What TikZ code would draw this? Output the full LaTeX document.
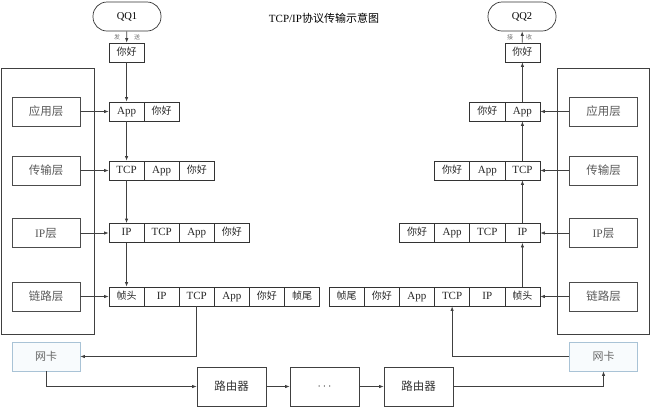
\documentclass[tikz,border=0pt]{standalone}
\usepackage{fontspec}
\setmainfont{Liberation Serif}
\newfontfamily\cjk{Noto Sans CJK SC}
\usetikzlibrary{arrows.meta}
\definecolor{nicdraw}{HTML}{A9C3D6}
\definecolor{nicfill}{HTML}{F8FBFD}
\newcommand\zhs[1]{{\cjk\fontsize{10}{11}\selectfont #1}}
\begin{document}
\begin{tikzpicture}[x=1pt,y=-1pt,
  line/.style={draw=black!75, line width=0.7pt},
  arr/.style={line, -{Latex[length=4.5pt,width=3.4pt]}},
  cell/.style={draw=black!80, line width=0.7pt, minimum width=35.1pt, minimum height=19pt, inner sep=0pt, text height=7.5pt, text depth=2pt, font=\fontsize{11}{12}\selectfont, text=black!85},
  layer/.style={draw=black!70, line width=0.7pt, minimum width=68pt, minimum height=29pt, inner sep=0pt, font=\cjk\fontsize{11.5}{12}\selectfont, text=black!65},
  nic/.style={draw=nicdraw, fill=nicfill, line width=0.7pt, minimum width=68pt, minimum height=29pt, inner sep=0pt, font=\cjk\fontsize{11}{12}\selectfont, text=black!60},
  router/.style={draw=black!75, line width=0.7pt, minimum width=69pt, minimum height=39pt, inner sep=0pt, font=\cjk\fontsize{11.5}{12}\selectfont, text=black!80},
  qq/.style={draw=black!80, line width=0.7pt, rounded corners=14pt, minimum width=68pt, minimum height=29pt, inner sep=0pt, font=\fontsize{10.5}{11}\selectfont},
  tiny/.style={inner sep=0pt, font=\cjk\fontsize{6}{7}\selectfont, text=black!55},
  frame/.style={draw=black!75, line width=0.7pt}
]
\useasboundingbox (0,0) rectangle (650,408);

% title
\node[font=\fontsize{11}{12}\selectfont] (title) at (324,18) {TCP/IP{\cjk\fontsize{11}{12}\selectfont 协议传输示意图}};

% frames
\draw[frame] (1,68) rectangle (94,334);
\draw[frame] (557,68) rectangle (649,334);

% left side
\node[qq] (qq1) at (127,16.5) {QQ1};
\node[cell] (ltop) at (126.55,52.5) {\zhs{你好}};
\node[tiny] (send1) at (117,37) {发};
\node[tiny] (send2) at (137,37) {送};

\node[layer] (lapp) at (46,111.5) {应用层};
\node[layer] (ltra) at (46,170.5) {传输层};
\node[layer] (lip)  at (46,233) {{\rmfamily\fontsize{11.5}{12}\selectfont IP}层};
\node[layer] (llnk) at (46,296.5) {链路层};

\node[cell] (la0) at (126.55,111.5) {App};
\node[cell] (la1) at (161.65,111.5) {\zhs{你好}};

\node[cell] (lt0) at (126.55,170.5) {TCP};
\node[cell] (lt1) at (161.65,170.5) {App};
\node[cell] (lt2) at (196.75,170.5) {\zhs{你好}};

\node[cell] (li0) at (126.55,233) {IP};
\node[cell] (li1) at (161.65,233) {TCP};
\node[cell] (li2) at (196.75,233) {App};
\node[cell] (li3) at (231.85,233) {\zhs{你好}};

\node[cell] (ll0) at (126.55,296.5) {\zhs{帧头}};
\node[cell] (ll1) at (161.65,296.5) {IP};
\node[cell] (ll2) at (196.75,296.5) {TCP};
\node[cell] (ll3) at (231.85,296.5) {App};
\node[cell] (ll4) at (266.95,296.5) {\zhs{你好}};
\node[cell] (ll5) at (302.05,296.5) {\zhs{帧尾}};

\node[nic] (nic1) at (46,356.5) {网卡};

% bottom
\node[router] (r1) at (231.5,386.5) {路由器};
\node[router] (dots) at (324.5,386.5) {$\cdots$};
\node[router] (r2) at (418.5,386.5) {路由器};

% right side
\node[qq] (qq2) at (522,16.5) {QQ2};
\node[cell] (rtop) at (522.4,52.5) {\zhs{你好}};
\node[tiny] (recv1) at (510,37) {接};
\node[tiny] (recv2) at (529,37) {收};

\node[layer] (rapp) at (603.5,111.5) {应用层};
\node[layer] (rtra) at (603.5,170.5) {传输层};
\node[layer] (rip)  at (603.5,233) {{\rmfamily\fontsize{11.5}{12}\selectfont IP}层};
\node[layer] (rlnk) at (603.5,296.5) {链路层};

\node[cell] (ra4) at (487.3,111.5) {\zhs{你好}};
\node[cell] (ra5) at (522.4,111.5) {App};

\node[cell] (rt3) at (452.2,170.5) {\zhs{你好}};
\node[cell] (rt4) at (487.3,170.5) {App};
\node[cell] (rt5) at (522.4,170.5) {TCP};

\node[cell] (ri2) at (417.1,233) {\zhs{你好}};
\node[cell] (ri3) at (452.2,233) {App};
\node[cell] (ri4) at (487.3,233) {TCP};
\node[cell] (ri5) at (522.4,233) {IP};

\node[cell] (rl0) at (346.6,296.5) {\zhs{帧尾}};
\node[cell] (rl1) at (381.8,296.5) {\zhs{你好}};
\node[cell] (rl2) at (416.9,296.5) {App};
\node[cell] (rl3) at (452.1,296.5) {TCP};
\node[cell] (rl4) at (487.3,296.5) {IP};
\node[cell] (rl5) at (522.4,296.5) {\zhs{帧头}};

\node[nic] (nic2) at (603.5,356.5) {网卡};

% connectors left
\draw[arr] (qq1) -- (ltop);
\draw[arr] (ltop) -- (la0);
\draw[arr] (la0) -- (lt0);
\draw[arr] (lt0) -- (li0);
\draw[arr] (li0) -- (ll0);
\draw[arr] (lapp) -- (la0);
\draw[arr] (ltra) -- (lt0);
\draw[arr] (lip) -- (li0);
\draw[arr] (llnk) -- (ll0);
\draw[arr] (ll2.south) |- (nic1.east);
\draw[arr] (nic1.south) |- (r1.west);

% bottom connectors
\draw[arr] (r1) -- (dots);
\draw[arr] (dots) -- (r2);
\draw[arr] (r2.east) -| (nic2.south);

% connectors right
\draw[arr] (nic2.west) -| (rl3.south);
\draw[arr] (rl5) -- (ri5);
\draw[arr] (ri5) -- (rt5);
\draw[arr] (rt5) -- (ra5);
\draw[arr] (ra5) -- (rtop);
\draw[arr] (rtop) -- (qq2);
\draw[arr] (rapp) -- (ra5);
\draw[arr] (rtra) -- (rt5);
\draw[arr] (rip) -- (ri5);
\draw[arr] (rlnk) -- (rl5);
\end{tikzpicture}
\end{document}
